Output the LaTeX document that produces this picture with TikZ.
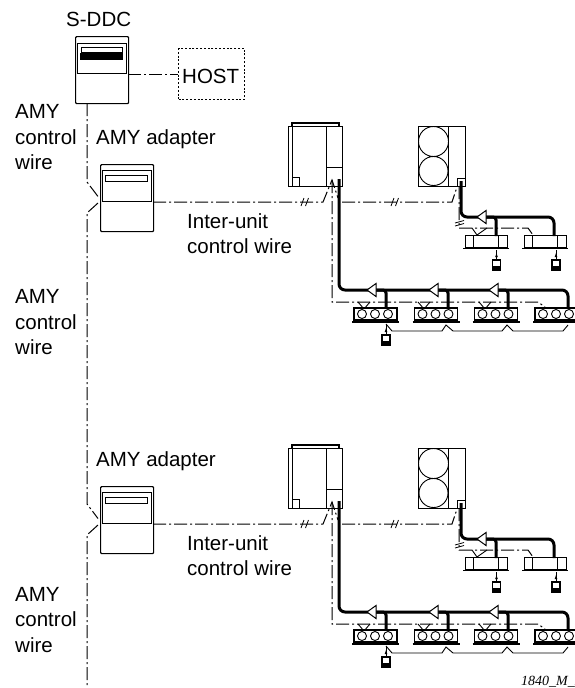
\documentclass[tikz,border=0pt]{standalone}
\usepackage{fontspec}
\setmainfont{Liberation Sans}
\newfontfamily\noteserif{Liberation Serif}
\tikzset{
  unitbox/.style={draw,line width=1.2pt,rounded corners=1pt},
  thinbox/.style={draw,line width=.9pt},
  ctrl/.style={line width=1pt,dash pattern=on 13pt off 3pt on 2pt off 3pt},
  refpipe/.style={line width=3pt,rounded corners=6pt},
  lab/.style={font=\fontsize{20.5pt}{25.5pt}\selectfont,anchor=base west,inner sep=0pt,align=left},
  tick/.style={line width=.8pt},
  plain/.style={line width=.9pt},
  tri/.style={draw,fill=white,line width=1pt}
}
% remote controller: #1 x centre, #2 top of lead
\newcommand\remotectl[2]{
  \draw[plain] (#1,#2) -- (#1,#2+10);
  \fill (#1,#2+3) -- (#1+1.3,#2+7) -- (#1-1.3,#2+7) -- cycle;
  \draw[line width=1.1pt,fill=white] (#1-4,#2+10) rectangle (#1+4,#2+20);
  \fill (#1-4,#2+16) rectangle (#1+4,#2+20);
}
% indoor cassette with three circles: #1 left x, #2 top y
\newcommand\cassette[2]{
  \draw[line width=1.1pt,fill=white] (#1,#2) rectangle (#1+43,#2+12);
  \foreach \c in {8,21,34}{\draw[plain] (#1+\c,#2+6) circle (4.5);}
  \draw[line width=2pt] (#1-2,#2+14) -- (#1+45,#2+14);
}
% ceiling unit with two bars: #1 left x, #2 top y
\newcommand\ceilunit[2]{
  \draw[line width=.9pt] (#1,#2) rectangle (#1+42,#2+12);
  \draw[plain] (#1+8,#2) -- (#1+8,#2+12) (#1+33,#2) -- (#1+33,#2+12);
  \draw[line width=1.3pt] (#1-2,#2+13.5) -- (#1+44,#2+13.5);
}
% refrigerant branch triangle: #1 apex x, #2 y
\newcommand\branchtri[2]{
  \draw[tri] (#1,#2) -- (#1+9,#2-6.5) -- (#1+9,#2+6.5) -- cycle;
}
\begin{document}
\begin{tikzpicture}[x=1pt,y=-1pt]
\useasboundingbox (0,0) rectangle (574,688);

% S-DDC
\node[lab] (sddclab) at (66,26) {S-DDC};
\node[unitbox,minimum width=53pt,minimum height=67pt,inner sep=0pt,anchor=north west] (sddc) at (75,36) {};
\draw[thinbox] (77.5,43) rectangle (126,73);
\draw[thinbox] (81,47) rectangle (122,52);
\fill (80,53) rectangle (122.5,60);
\node[draw,line width=1.2pt,dash pattern=on 2pt off 1.8pt,anchor=north west,minimum width=66pt,minimum height=51pt,inner sep=0pt] (host) at (178,48) {};
\node[lab] (hostlab) at (182,83) {HOST};
\coordinate (sddcr) at (128,74);
\draw[ctrl] (sddcr) -- (sddcr-|host.west);

% AMY control wire (trunk)
\coordinate (t0) at (87,103);
\coordinate (t1) at (87,182);
\coordinate (t2) at (98,196.5);
\coordinate (t3) at (98,203);
\coordinate (t4) at (87,213);
\coordinate (t5) at (87,504);
\coordinate (t6) at (98,518.5);
\coordinate (t7) at (98,525);
\coordinate (t8) at (87,535);
\coordinate (t9) at (87,688);
\draw[ctrl] (t0) -- (t1) -- (t2);
\draw[ctrl] (t3) -- (t4) -- (t5) -- (t6);
\draw[ctrl] (t7) -- (t8) -- (t9);

\node[lab] (w1) at (15,169.5) {AMY\\control\\wire};
\node[lab] (w2) at (15,354.5) {AMY\\control\\wire};
\node[lab] (w3) at (15,652) {AMY\\control\\wire};

\foreach \o/\n in {0/a,322/b}{
\begin{scope}[shift={(0,\o)}]
  \node[lab] (adlab\n) at (96,144) {AMY adapter};
  \node[lab] (iulab\n) at (187,253.5) {Inter-unit\\control wire};
  % adapter
  \node[unitbox,minimum width=53pt,minimum height=67pt,inner sep=0pt,anchor=north west] (ad\n) at (100,164) {};
  \draw[thinbox] (102,170) rectangle (151,201.5);
  \draw[thinbox] (105.5,175.5) rectangle (147,181);
  % heat-recovery outdoor unit
  \draw[line width=1.2pt] (292,126) -- (292,123) -- (339,123) -- (339,126);
  \node[draw,line width=1.2pt,minimum width=54pt,minimum height=60pt,inner sep=0pt,anchor=north west] (od\n) at (288,126) {};
  \draw[plain] (292.5,126) -- (292.5,186) (326,126) -- (326,186) (326,167) -- (342,167);
  \draw[plain] (292.5,177.5) -- (299.5,177.5) -- (299.5,186);
  % fan outdoor unit
  \node[draw,line width=1.2pt,minimum width=47pt,minimum height=60pt,inner sep=0pt,anchor=north west] (fu\n) at (418,126) {};
  \draw[plain] (448.5,126) -- (448.5,186);
  \draw[plain] (433.5,141.5) circle (15) (433.5,171) circle (14.5);
  % control wiring
  \coordinate (c0) at (153,202);
  \coordinate (c1) at (323,202);
  \coordinate (c2) at (332,180);
  \coordinate (c3) at (338,198);
  \coordinate (c4) at (342,202);
  \coordinate (c5) at (452,202);
  \coordinate (c6) at (457,187);
  \draw[ctrl] (c0) -- (c1) -- (c2) -- (c3);
  \draw[ctrl] (c4) -- (c5) -- (c6);
  \foreach \x in {305,395}{
    \draw[tick] (\x-4,206) -- (\x-1,198) (\x+.5,206) -- (\x+3.5,198);
  }
  % row wiring, lower
  \draw[ctrl] (c2) -- (332,302) -- (538,302) -- (545,307);
  \foreach \x in {358,418,479}{
    \draw[plain] (\x,302) -- (\x+6,309) -- (\x+12,302);
  }
  % main pipes
  \draw[refpipe] (339,179) -- (339,290) -- (568,290) -- (568,309);
  \foreach \x in {386,448,508}{
    \draw[line width=3pt,rounded corners=3pt] (\x-10,290) -- (\x,290) -- (\x,309);
  }
  \foreach \x in {367,429,489}{\branchtri{\x}{290}}
  % lower units
  \cassette{354}{308}\cassette{414.5}{308}\cassette{474.5}{308}\cassette{535}{308}
  \draw[plain] (386,324) -- (392,331) -- (442,331) -- (446,325) -- (453,331)
     -- (502,331) -- (507,325) -- (513,331) -- (563,331) -- (568,325);
  \remotectl{386}{325}
  % upper branch
  \draw[ctrl] (459,186) -- (459,228) -- (528,228) -- (533,235);
  \draw[plain] (472,228) -- (477,235) -- (487,228);
  \draw[tick] (455,223) -- (464,220.5) (455,226) -- (464,223.5);
  \draw[refpipe] (461,181) -- (461,217) -- (554,217) -- (554,236);
  \draw[line width=3pt,rounded corners=3pt] (486,217) -- (496,217) -- (496,236);
  \branchtri{477}{217}
  \draw[plain] (457,178) rectangle (465,186);
  \ceilunit{465}{235}\ceilunit{524}{235}
  \remotectl{496.5}{250}\remotectl{556}{250}
\end{scope}
}
\node[anchor=base west,inner sep=0pt,font=\noteserif\itshape\fontsize{14pt}{16pt}\selectfont] (note) at (521,685) {1840\_M\_I};
\end{tikzpicture}
\end{document}
